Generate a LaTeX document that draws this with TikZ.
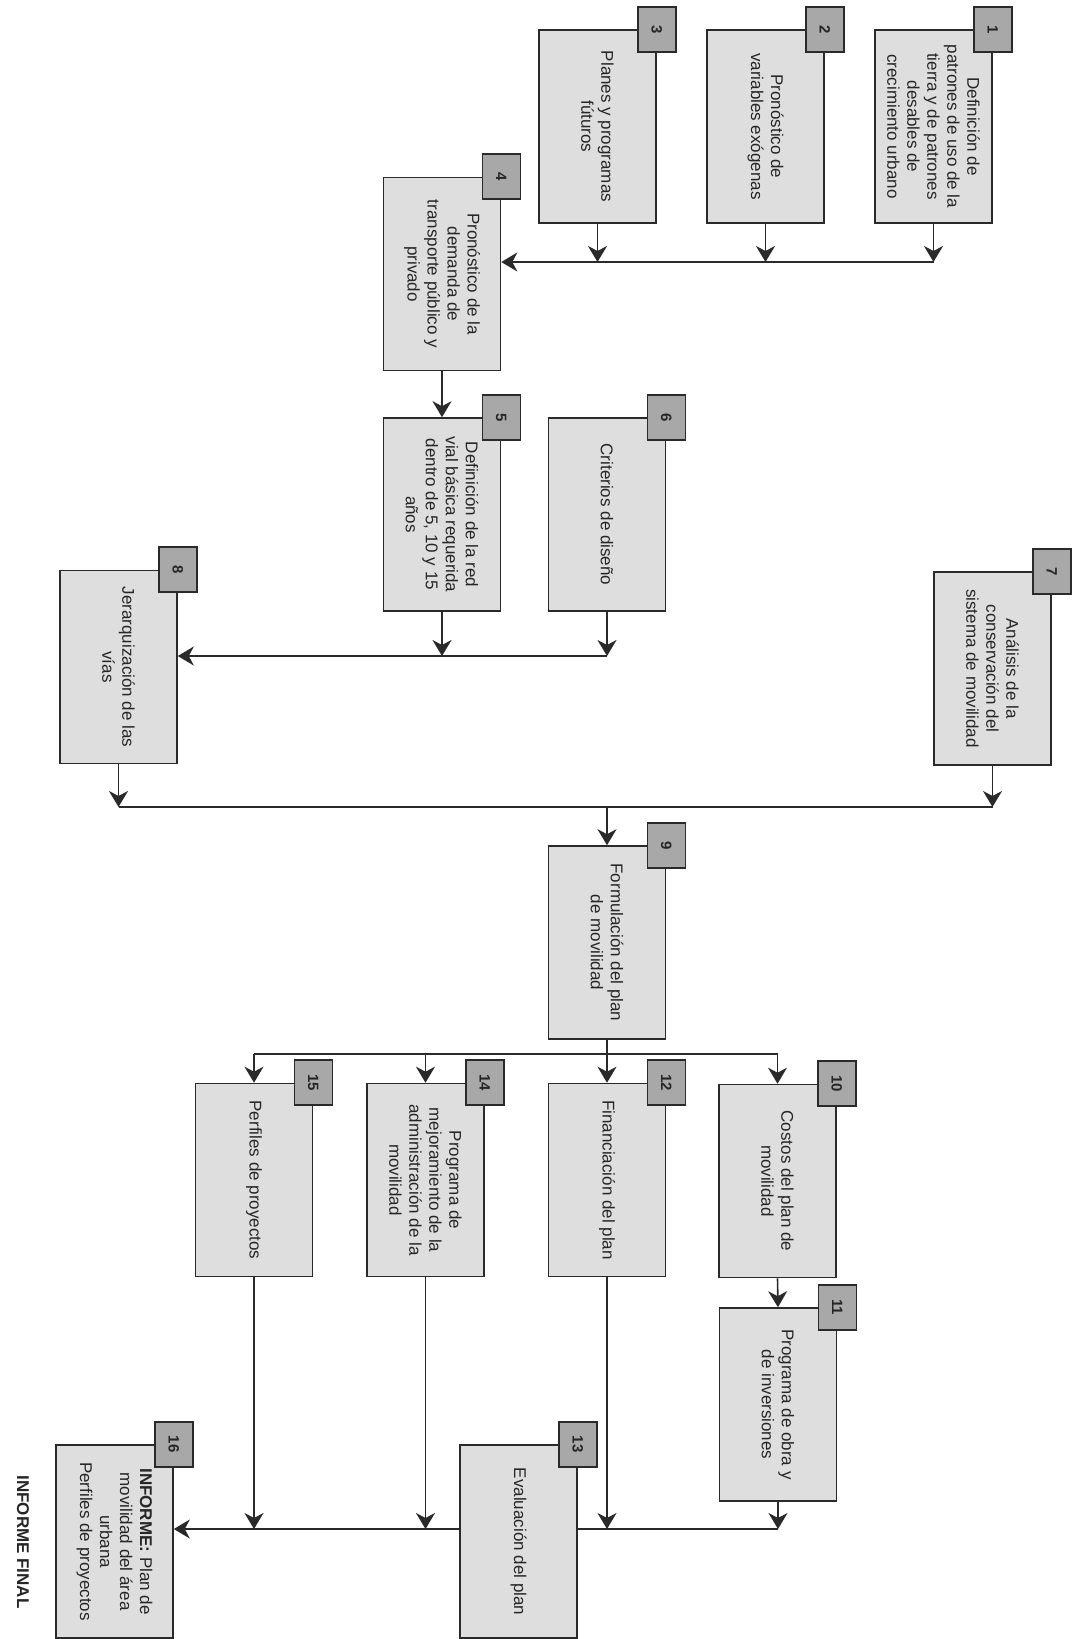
\documentclass[tikz,border=0pt]{standalone}
\usepackage{fontspec}
\setmainfont{Liberation Sans}
\usetikzlibrary{arrows.meta,calc}
\definecolor{boxfill}{HTML}{DEDEDE}
\definecolor{badgefill}{HTML}{A8A8A8}
\definecolor{linec}{HTML}{2A2A2A}
\pgfdeclarelayer{background}
\pgfsetlayers{background,main}
\begin{document}
\begin{tikzpicture}[x=1pt,y=-1pt,
  box/.style={draw=linec, line width=1.6pt, fill=boxfill, minimum width=117pt, minimum height=193pt, inner sep=0pt},
  txt/.style={rotate=-90, align=center, font=\fontsize{17}{20}\selectfont, text=black!85, inner sep=0pt},
  badge/.style={draw=linec, line width=1.6pt, fill=badgefill, rotate=-90, minimum width=45pt, minimum height=38pt, inner sep=0pt, font=\fontsize{15}{15}\selectfont\bfseries, text=black!85},
  conn/.style={draw=linec, line width=1.6pt},
  arr/.style={conn, -{Stealth[length=16pt,width=19pt,inset=5pt]}}]
\useasboundingbox (0,0) rectangle (1073,1639);
% trunk levels
\coordinate (r1) at (0,262);
\coordinate (r2) at (0,656);
\coordinate (r3) at (0,807);
\coordinate (r4) at (0,1054);
\coordinate (r5) at (0,1529);
% boxes
\node[box] (b1) at (933.5,126.5) {};
\node[box] (b2) at (765.5,126.5) {};
\node[box] (b3) at (597.5,126.5) {};
\node[box] (b4) at (442,274) {};
\node[box] (b5) at (442,514.5) {};
\node[box] (b6) at (607,514.5) {};
\node[box] (b7) at (992.5,668.5) {};
\node[box] (b8) at (118.5,667) {};
\node[box] (b9) at (607,942.5) {};
\node[box] (b10) at (777.5,1181) {};
\node[box] (b11) at (778,1404.5) {};
\node[box] (b12) at (607,1180) {};
\node[box] (b13) at (518.5,1541.5) {};
\node[box] (b14) at (425.5,1180) {};
\node[box] (b15) at (254,1180) {};
\node[box] (b16) at (114.5,1541.5) {};
% texts
\node[txt] (t1) at (b1.center) {Definición de\\patrones de uso de la\\tierra y de patrones\\desables de\\crecimiento urbano};
\node[txt] (t2) at (b2.center) {Pronóstico de\\variables exógenas};
\node[txt] (t3) at (b3.center) {Planes y programas\\fúturos};
\node[txt] (t4) at (b4.center) {Pronóstico de la\\demanda de\\transporte público y\\privado};
\node[txt] (t5) at (b5.center) {Definición de la red\\vial básica requerida\\dentro de 5, 10 y 15\\años};
\node[txt] (t6) at (b6.center) {Criterios de diseño};
\node[txt] (t7) at (b7.center) {Análisis de la\\conservación del\\sistema de movilidad};
\node[txt] (t8) at (b8.center) {Jerarquización de las\\vías};
\node[txt] (t9) at (b9.center) {Formulación del plan\\de movilidad};
\node[txt] (t10) at (b10.center) {Costos del plan de\\movilidad};
\node[txt] (t11) at (b11.center) {Programa de obra y\\de inversiones};
\node[txt] (t12) at (b12.center) {Financiación del plan};
\node[txt] (t13) at (b13.center) {Evaluación del plan};
\node[txt] (t14) at (b14.center) {Programa de\\mejoramiento de la\\administración de la\\movilidad};
\node[txt] (t15) at (b15.center) {Perfiles de proyectos};
\node[txt] (t16) at (b16.center) {\textbf{INFORME:} Plan de\\movilidad del área\\urbana\\Perfiles de proyectos};
% badges
\foreach \i in {1,...,16} {\node[badge] (n\i) at (b\i.north east) {\i};}
% final label
\node[rotate=-90, font=\fontsize{17}{20}\selectfont\bfseries, text=black!85, inner sep=0pt] (fin) at (23,1542) {INFORME FINAL};
% connectors
\begin{pgfonlayer}{background}
\fill[white] (0,0) rectangle (1073,1639);
\draw[arr] (b1.south) -- (b1.south |- r1);
\draw[arr] (b2.south) -- (b2.south |- r1);
\draw[arr] (b3.south) -- (b3.south |- r1);
\draw[arr] (b1.south |- r1) -- (b4.east |- r1);
\draw[arr] (b4.south) -- (b5.north);
\draw[arr] (b5.south) -- (b5.south |- r2);
\draw[arr] (b6.south) -- (b6.south |- r2);
\draw[arr] (b6.south |- r2) -- (b8.east |- r2);
\draw[arr] (b8.south) -- (b8.south |- r3);
\draw[arr] (b7.south) -- (b7.south |- r3);
\draw[conn] (b8.south |- r3) -- (b7.south |- r3);
\draw[arr] (b9.north |- r3) -- (b9.north);
\draw[conn] (b9.south) -- (b9.south |- r4);
\draw[conn] (b15.north |- r4) -- (b10.north |- r4);
\draw[arr] (b10.north |- r4) -- (b10.north);
\draw[arr] (b12.north |- r4) -- (b12.north);
\draw[arr] (b14.north |- r4) -- (b14.north);
\draw[arr] (b15.north |- r4) -- (b15.north);
\draw[arr] (b10.south) -- (b11.north);
\draw[arr] (b11.south) -- (b11.south |- r5);
\draw[arr] (b12.south) -- (b12.south |- r5);
\draw[arr] (b14.south) -- (b14.south |- r5);
\draw[arr] (b15.south) -- (b15.south |- r5);
\draw[arr] (b11.south |- r5) -- (b16.east |- r5);
\end{pgfonlayer}
\end{tikzpicture}
\end{document}
